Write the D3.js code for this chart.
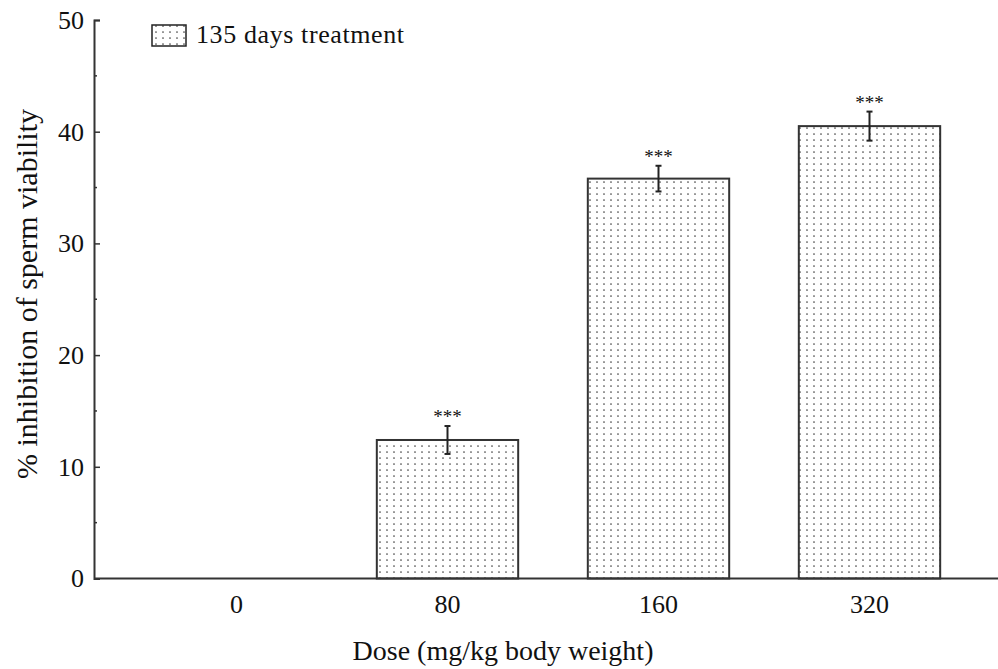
<!DOCTYPE html>
<html>
<head>
<meta charset="utf-8">
<script src="https://cdn.jsdelivr.net/npm/d3@7"></script>
<style>
  body { margin: 0; background: #fff; }
  text { font-family: "Liberation Serif", "Times New Roman", serif; fill: #111; }
</style>
</head>
<body>
<div id="svg-container"></div>
<script>
////////////////////////////  Data  ////////////////////////////
const doses = ["0", "80", "160", "320"];
const inhibition = [0, 12.4, 35.8, 40.5];
const errors = [0, 1.25, 1.15, 1.3];
const stars = ["", "***", "***", "***"];
const yTicks = [0, 10, 20, 30, 40, 50];
const legendLabel = "135 days treatment";

////////////////////////////  Init  ////////////////////////////
const width = 998, height = 669;
const svg = d3.select("#svg-container").append("svg")
  .attr("width", width).attr("height", height);

// dot pattern
const pat = svg.append("defs").append("pattern")
  .attr("id", "dots").attr("patternUnits", "userSpaceOnUse")
  .attr("width", 7).attr("height", 6);
pat.append("rect").attr("width", 7).attr("height", 6).attr("fill", "#fff");
pat.append("circle").attr("cx", 2).attr("cy", 2).attr("r", 0.85).attr("fill", "#444");

// scales
const xScale = d3.scaleBand().domain(doses).range([131, 975])
  .paddingInner(0.33).paddingOuter(0.165);
const yScale = d3.scaleLinear().domain([0, 50]).range([578.5, 20]);
const axisX = 94;

// y axis (ticks inside)
const yAxis = d3.axisRight(yScale).tickValues(yTicks).tickSize(6).tickFormat(d3.format("d"));
const yg = svg.append("g").attr("transform", `translate(${axisX},0)`).call(yAxis);
yg.select(".domain").attr("stroke", "#333").attr("stroke-width", 2);
yg.selectAll(".tick line").attr("stroke", "#333").attr("stroke-width", 1.5);
yg.selectAll(".tick text").attr("x", -10).attr("text-anchor", "end")
  .style("font-size", "26px").style("font-family", "Liberation Serif").attr("fill", "#111");

// minor ticks
svg.append("g").selectAll("line")
  .data(d3.range(5, 50, 10))
  .join("line")
  .attr("x1", axisX).attr("x2", axisX + 3)
  .attr("y1", d => yScale(d)).attr("y2", d => yScale(d))
  .attr("stroke", "#333").attr("stroke-width", 1.5);

// bars
const bars = svg.append("g");
doses.forEach((d, i) => {
  if (inhibition[i] <= 0) return;
  bars.append("rect")
    .attr("x", xScale(d))
    .attr("y", yScale(inhibition[i]))
    .attr("width", xScale.bandwidth())
    .attr("height", yScale(0) - yScale(inhibition[i]))
    .attr("fill", "url(#dots)")
    .attr("stroke", "#333").attr("stroke-width", 2);
});

// error bars
const eb = svg.append("g").attr("stroke", "#222").attr("stroke-width", 2);
doses.forEach((d, i) => {
  if (!errors[i]) return;
  const cx = xScale(d) + xScale.bandwidth() / 2;
  const y1 = yScale(inhibition[i] + errors[i]);
  const y2 = yScale(inhibition[i] - errors[i]);
  eb.append("line").attr("x1", cx).attr("x2", cx).attr("y1", y1).attr("y2", y2);
  eb.append("line").attr("x1", cx - 3).attr("x2", cx + 3).attr("y1", y1).attr("y2", y1);
  eb.append("line").attr("x1", cx - 3).attr("x2", cx + 3).attr("y1", y2).attr("y2", y2);
});

// significance stars
svg.append("g").selectAll("text")
  .data(doses)
  .join("text")
  .attr("x", d => xScale(d) + xScale.bandwidth() / 2)
  .attr("y", (d, i) => yScale(inhibition[i] + errors[i]) - 3)
  .attr("text-anchor", "middle")
  .style("font-size", "19px")
  .text((d, i) => stars[i]);

// x axis
const xAxis = d3.axisBottom(xScale).tickSize(0).tickPadding(16);
const xg = svg.append("g").attr("transform", `translate(0,${yScale(0)})`).call(xAxis);
xg.select(".domain").remove();
xg.selectAll(".tick text").style("font-size", "26px").style("font-family", "Liberation Serif").attr("fill", "#111");
svg.append("line")
  .attr("x1", axisX).attr("x2", width)
  .attr("y1", yScale(0)).attr("y2", yScale(0))
  .attr("stroke", "#333").attr("stroke-width", 2);

// units
svg.append("text")
  .attr("x", 503).attr("y", 660)
  .attr("text-anchor", "middle")
  .style("font-size", "28px")
  .text("Dose (mg/kg body weight)");

svg.append("text")
  .attr("transform", `translate(37,${294}) rotate(-90)`)
  .attr("text-anchor", "middle")
  .style("font-size", "30px")
  .text("% inhibition of sperm viability");

// legend
svg.append("rect")
  .attr("x", 152).attr("y", 25).attr("width", 34).attr("height", 21)
  .attr("fill", "url(#dots)").attr("stroke", "#222").attr("stroke-width", 1.5);
svg.append("text")
  .attr("x", 196).attr("y", 43)
  .style("font-size", "26px")
  .style("letter-spacing", "0.6px")
  .text(legendLabel);
</script>
</body>
</html>
